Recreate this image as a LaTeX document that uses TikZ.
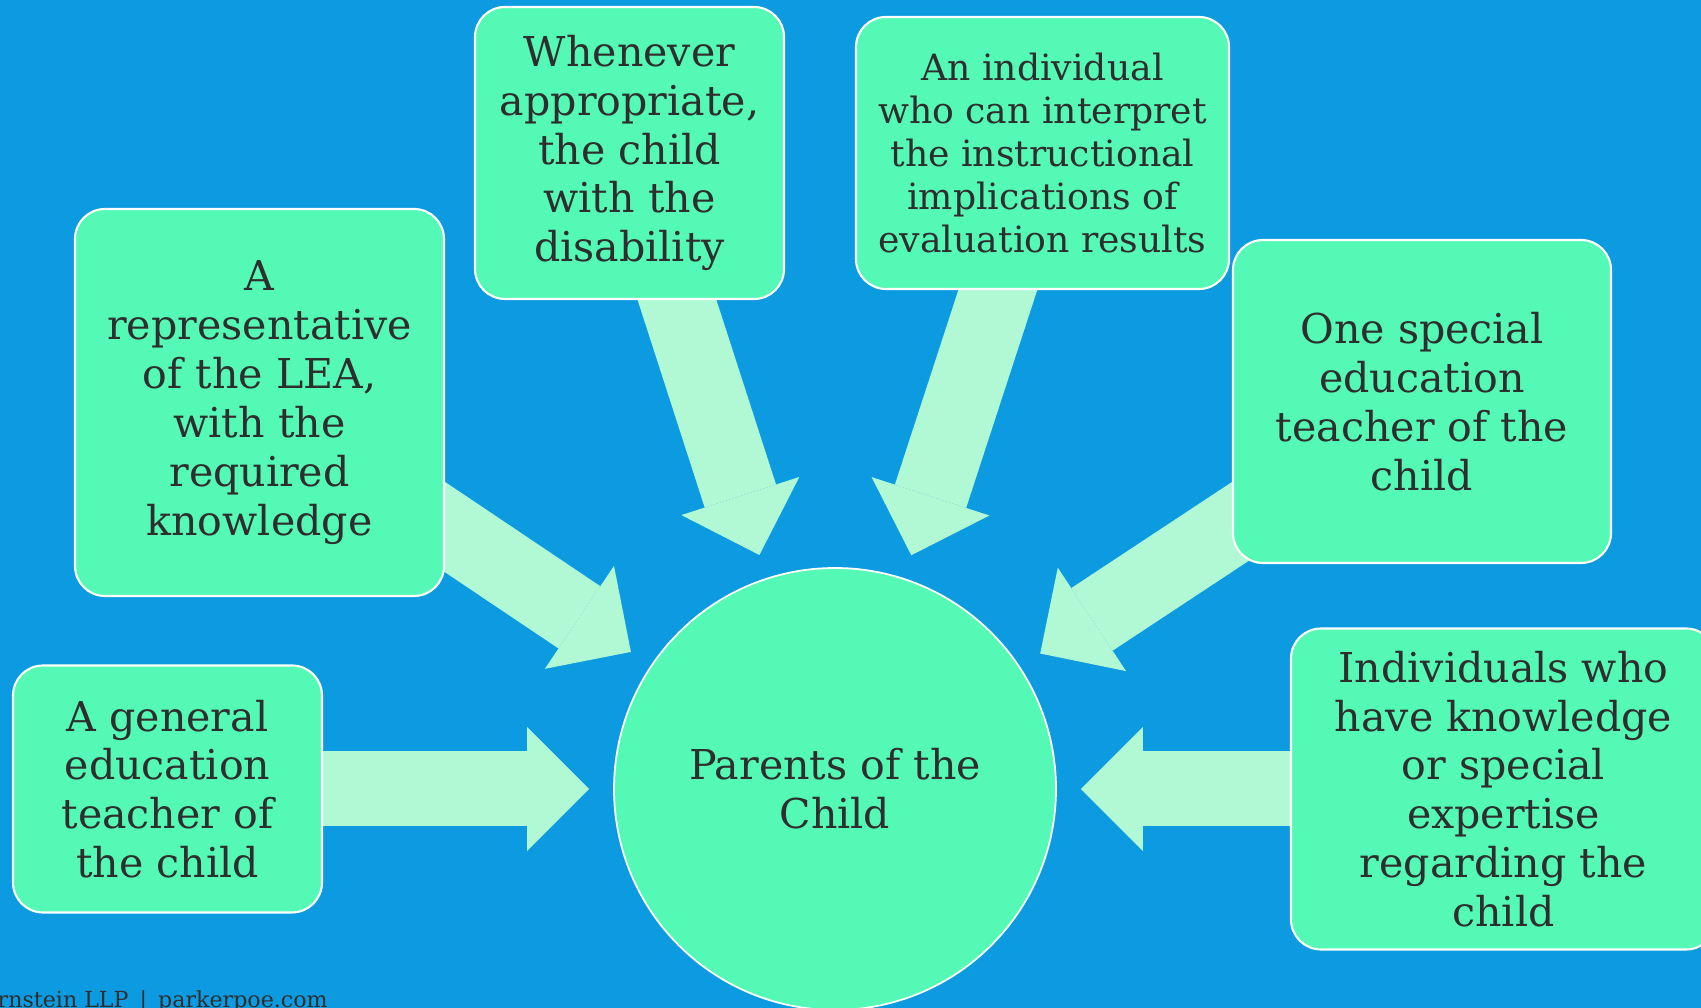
\documentclass[tikz,border=0pt]{standalone}
\usepackage{fontspec}
\setmainfont{DejaVu Serif}
\usetikzlibrary{positioning,arrows.meta,backgrounds}

\definecolor{slideblue}{HTML}{0C9BE0}
\definecolor{boxgreen}{HTML}{55F9B6}
\definecolor{arrowmint}{HTML}{B1F9D5}
\definecolor{inkgray}{HTML}{2E2E2E}

\tikzstyle{member} = [rectangle, draw=white, line width=0.6pt, fill=boxgreen, text=inkgray, align=center, rounded corners=0.3cm, inner sep=0pt, font=\fontsize{11.7}{13.9}\selectfont]
\tikzstyle{parent} = [circle, draw=white, line width=0.5pt, fill=boxgreen, text=inkgray, align=center, minimum size=4.42cm, inner sep=0pt, font=\fontsize{11.7}{13.9}\selectfont]
\tikzstyle{feed} = [draw=arrowmint, line width=0.75cm, -{Triangle[length=0.62cm, width=1.24cm, line width=0pt]}, shorten >=0.24cm]
\tikzstyle{footer} = [text=inkgray, inner sep=0pt, font=\fontsize{6.3}{7.5}\selectfont]

\begin{document}
\begin{tikzpicture}
  \useasboundingbox (0,0) rectangle (17.01,10.08);

  \node[parent] (parent) at (8.35,2.19) {Parents of the\\Child};
  \node[member, left of = parent, node distance = 6.675cm, minimum width = 3.09cm, minimum height = 2.47cm] (general) {A general\\education\\teacher of\\the child};
  \node[member, above of = parent, node distance = 3.865cm, xshift = -5.755cm, minimum width = 3.69cm, minimum height = 3.87cm] (lea) {A\\representative\\of the LEA,\\with the\\required\\knowledge};
  \node[member, above of = parent, node distance = 6.36cm, xshift = -2.055cm, minimum width = 3.09cm, minimum height = 2.92cm] (child) {Whenever\\appropriate,\\the child\\with the\\disability};
  \node[member, above of = parent, node distance = 6.36cm, xshift = 2.075cm, minimum width = 3.73cm, minimum height = 2.72cm, font = \fontsize{10.3}{12.3}\selectfont] (interpreter) {An individual\\who can interpret\\the instructional\\implications of\\evaluation results};
  \node[member, above of = parent, node distance = 3.875cm, xshift = 5.87cm, minimum width = 3.78cm, minimum height = 3.23cm] (special) {One special\\education\\teacher of the\\child};
  \node[member, right of = parent, node distance = 6.685cm, minimum width = 4.25cm, minimum height = 3.21cm] (experts) {Individuals who\\have knowledge\\or special\\expertise\\regarding the\\child};

  \node[footer, anchor = base west] (credit) at (-0.03,0.01) {rnstein LLP\enspace|\enspace parkerpoe.com};

  \begin{scope}[on background layer]
    \fill[slideblue] (0,0) rectangle (17.01,10.08);
    \path [feed] (general.center) -- (parent);
    \path [feed] (lea.center) -- (parent);
    \path [feed] (child.center) -- (parent);
    \path [feed] (interpreter.center) -- (parent);
    \path [feed] (special.center) -- (parent);
    \path [feed] (experts.center) -- (parent);
  \end{scope}

\end{tikzpicture}
\end{document}
